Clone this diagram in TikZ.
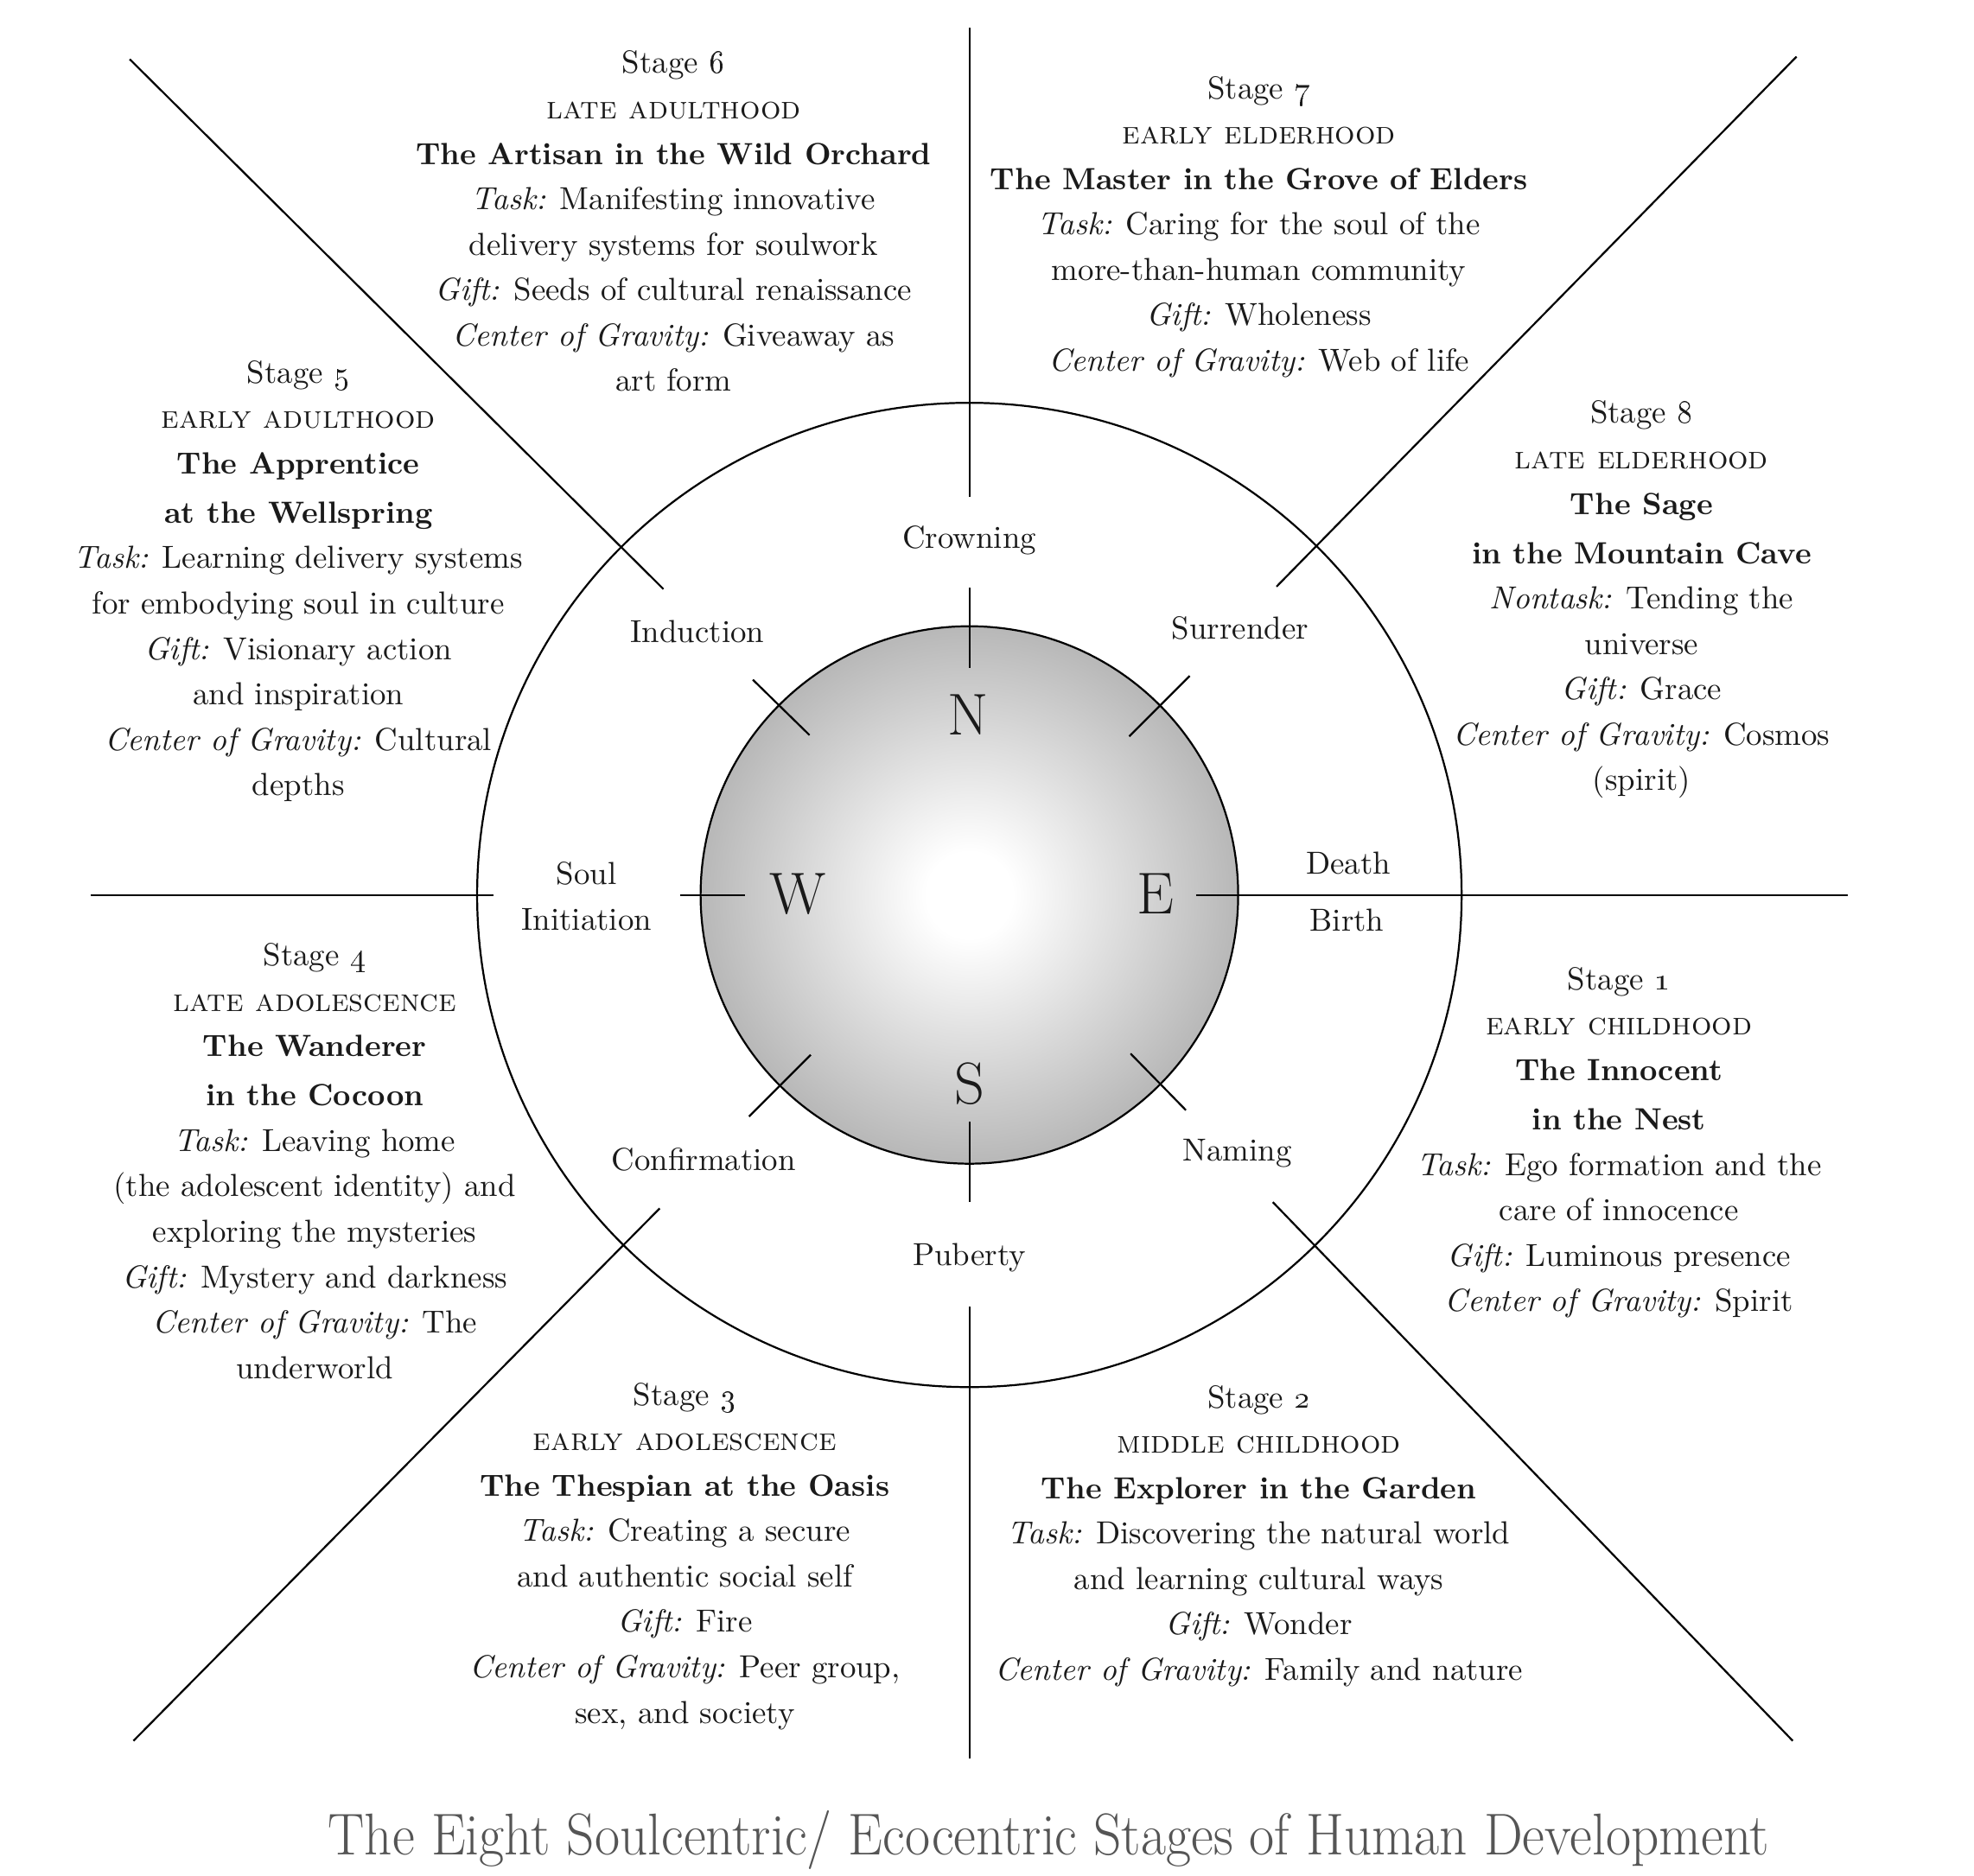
\documentclass[tikz,border=0pt]{standalone}
\usepackage{tikz}
\usepackage{xcolor}
\definecolor{soulink}{RGB}{26, 26, 26}
\definecolor{captiongray}{RGB}{85, 85, 85}
\tikzstyle{divider} = [line width=0.65pt, black]
\tikzstyle{stagebox} = [align=center, anchor=north, inner sep=0pt, text=soulink, font=\fontsize{10.8}{15.4}\selectfont]
\tikzstyle{passage} = [align=center, inner sep=0pt, text=soulink, font=\fontsize{10.8}{15.4}\selectfont]
\tikzstyle{compass} = [inner sep=0pt, text=soulink, font=\fontsize{20}{24}\selectfont]
\newcommand{\stagetitle}[1]{{\fontsize{10.4}{15.4}\selectfont\bfseries #1}}
\newcommand{\stagenum}[1]{Stage \oldstylenums{#1}}
\newcommand{\stageage}[1]{\textsc{#1}}
\pgfdeclareradialshading{sphereshade}{\pgfpoint{0bp}{0bp}}{color(0bp)=(white); color(4bp)=(white); color(25bp)=(black!28); color(40bp)=(black!43); color(50bp)=(black!52); color(60bp)=(black!52)}

\begin{document}
\begin{tikzpicture}[x=0.015cm, y=-0.015cm]
\useasboundingbox (0,0) rectangle (1568,1490);

% Outer circle and sphere
\coordinate (ctr) at (770,711);
\draw[divider] (ctr) circle (391);
\shade[shading=sphereshade, draw=black, line width=0.65pt] (ctr) circle (213.5);

% Dividing lines
\draw[divider] (770,22) -- (770,395);
\draw[divider] (770,1038) -- (770,1397);
\draw[divider] (72,711) -- (392,711);
\draw[divider] (950,711) -- (1468,711);
\foreach \ax/\ay/\bx/\by in {103/47/527/468, 1427/45/1014/466, 106/1383/524/960, 1424/1383/1011/955}
    \draw[divider] (\ax,\ay) -- (\bx,\by);

% Ticks on the sphere
\foreach \ax/\ay/\bx/\by in {770/467/770/531, 770/891/770/955, 540/711/592/711, 598/540/643/584, 945/537/897/585, 644/838/595/887, 898/837/942/882}
    \draw[divider] (\ax,\ay) -- (\bx,\by);

% Compass letters
\node[compass] (north) at (769,568) {N};
\node[compass] (west) at (634,710) {W};
\node[compass] (east) at (918,710) {E};
\node[compass] (south) at (770,861) {S};

% Passages between circle and sphere
\node[passage] (crowning) at (770,429) {Crowning};
\node[passage] (induction) at (554,502) {Induction};
\node[passage] (surrender) at (985,499) {Surrender};
\node[passage] (soulinit) at (466,712) {Soul\\Initiation};
\node[passage] (death) at (1071,686) {Death};
\node[passage] (birth) at (1070,731) {Birth};
\node[passage] (confirmation) at (559,921) {Confirmation};
\node[passage] (naming) at (983,916) {Naming};
\node[passage] (puberty) at (770,999) {Puberty};

% Stage blocks
\node[stagebox] (stage6) at (535,40) {\stagenum{6}\\ \stageage{late adulthood}\\ \stagetitle{The Artisan in the Wild Orchard}\\ \textit{Task:} Manifesting innovative\\ delivery systems for soulwork\\ \textit{Gift:} Seeds of cultural renaissance\\ \textit{Center of Gravity:} Giveaway as\\ art form};

\node[stagebox] (stage7) at (1000,60) {\stagenum{7}\\ \stageage{early elderhood}\\ \stagetitle{The Master in the Grove of Elders}\\ \textit{Task:} Caring for the soul of the\\ more-than-human community\\ \textit{Gift:} Wholeness\\ \textit{Center of Gravity:} Web of life};

\node[stagebox] (stage8) at (1304,318) {\stagenum{8}\\ \stageage{late elderhood}\\ \stagetitle{The Sage}\\[1.3pt] \stagetitle{in the Mountain Cave}\\ \textit{Nontask:} Tending the\\ universe\\ \textit{Gift:} Grace\\ \textit{Center of Gravity:} Cosmos\\ (spirit)};

\node[stagebox] (stage5) at (237,286) {\stagenum{5}\\ \stageage{early adulthood}\\ \stagetitle{The Apprentice}\\[1.3pt] \stagetitle{at the Wellspring}\\ \textit{Task:} Learning delivery systems\\ for embodying soul in culture\\ \textit{Gift:} Visionary action\\ and inspiration\\ \textit{Center of Gravity:} Cultural\\ depths};

\node[stagebox] (stage4) at (250,749) {\stagenum{4}\\ \stageage{late adolescence}\\ \stagetitle{The Wanderer}\\[1.3pt] \stagetitle{in the Cocoon}\\ \textit{Task:} Leaving home\\ (the adolescent identity) and\\ exploring the mysteries\\ \textit{Gift:} Mystery and darkness\\ \textit{Center of Gravity:} The\\ underworld};

\node[stagebox] (stage1) at (1286,768) {\stagenum{1}\\ \stageage{early childhood}\\ \stagetitle{The Innocent}\\[1.3pt] \stagetitle{in the Nest}\\ \textit{Task:} Ego formation and the\\ care of innocence\\ \textit{Gift:} Luminous presence\\ \textit{Center of Gravity:} Spirit};

\node[stagebox] (stage3) at (544,1098) {\stagenum{3}\\ \stageage{early adolescence}\\ \stagetitle{The Thespian at the Oasis}\\ \textit{Task:} Creating a secure\\ and authentic social self\\ \textit{Gift:} Fire\\ \textit{Center of Gravity:} Peer group,\\ sex, and society};

\node[stagebox] (stage2) at (1000,1100) {\stagenum{2}\\ \stageage{middle childhood}\\ \stagetitle{The Explorer in the Garden}\\ \textit{Task:} Discovering the natural world\\ and learning cultural ways\\ \textit{Gift:} Wonder\\ \textit{Center of Gravity:} Family and nature};

% Caption
\node[inner sep=0pt, text=captiongray, font=\fontsize{20}{24}\selectfont] (caption) at (833,1462) {\scalebox{0.927}[1]{The Eight Soulcentric/ Ecocentric Stages of Human Development}};
\end{tikzpicture}
\end{document}
